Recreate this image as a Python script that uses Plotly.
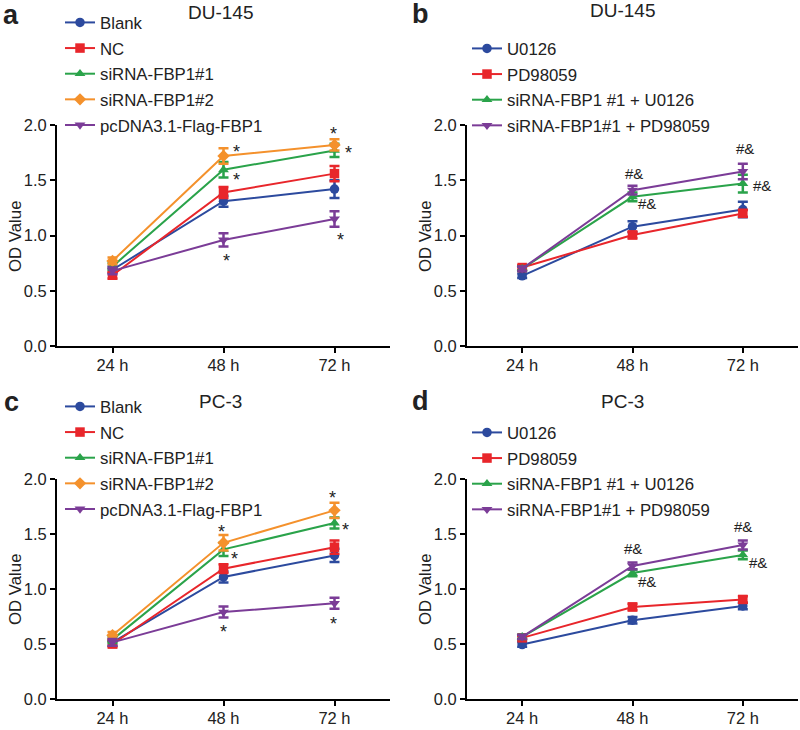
import plotly.graph_objects as go

time_labels = ["24 h", "48 h", "72 h"]
x_idx = [0, 1, 2]

# Panel a: DU-145, FBP1 knockdown/overexpression
a_names = ["Blank", "NC", "siRNA-FBP1#1", "siRNA-FBP1#2", "pcDNA3.1-Flag-FBP1"]
a_blank = [0.69, 1.31, 1.42]
a_nc = [0.64, 1.39, 1.56]
a_si1 = [0.72, 1.595, 1.77]
a_si2 = [0.77, 1.72, 1.82]
a_pc = [0.68, 0.96, 1.15]
a_err_blank = [0.03, 0.05, 0.08]
a_err_nc = [0.03, 0.05, 0.07]
a_err_si1 = [0.03, 0.07, 0.06]
a_err_si2 = [0.03, 0.07, 0.05]
a_err_pc = [0.03, 0.06, 0.07]

# Panel b: DU-145, inhibitors
b_names = ["U0126", "PD98059", "siRNA-FBP1 #1 + U0126", "siRNA-FBP1#1 + PD98059"]
b_u = [0.635, 1.08, 1.235]
b_pd = [0.71, 1.005, 1.20]
b_siu = [0.70, 1.35, 1.47]
b_sipd = [0.70, 1.41, 1.58]
b_err_u = [0.02, 0.05, 0.07]
b_err_pd = [0.02, 0.03, 0.03]
b_err_siu = [0.02, 0.04, 0.08]
b_err_sipd = [0.02, 0.04, 0.07]

# Panel c: PC-3
c_blank = [0.515, 1.11, 1.305]
c_nc = [0.50, 1.185, 1.38]
c_si1 = [0.54, 1.36, 1.60]
c_si2 = [0.58, 1.42, 1.715]
c_pc = [0.515, 0.79, 0.87]
c_err_blank = [0.03, 0.05, 0.06]
c_err_nc = [0.03, 0.04, 0.06]
c_err_si1 = [0.03, 0.06, 0.05]
c_err_si2 = [0.03, 0.07, 0.07]
c_err_pc = [0.03, 0.05, 0.05]

# Panel d: PC-3, inhibitors
d_u = [0.495, 0.716, 0.846]
d_pd = [0.556, 0.837, 0.905]
d_siu = [0.565, 1.145, 1.31]
d_sipd = [0.565, 1.21, 1.40]
d_err_u = [0.02, 0.03, 0.03]
d_err_pd = [0.02, 0.03, 0.03]
d_err_siu = [0.02, 0.03, 0.04]
d_err_sipd = [0.02, 0.03, 0.04]

# significance marks (x index, y value)
a_star_x = [1.12, 1.12, 1.03, 1.99, 2.13, 2.05]
a_star_y = [1.76, 1.50, 0.77, 1.92, 1.75, 0.96]
b_mark_x = [1.01, 1.13, 2.02, 2.17]
b_mark_y = [1.565, 1.29, 1.79, 1.45]
c_star_x = [0.98, 1.10, 1.00, 1.98, 2.10, 1.99]
c_star_y = [1.515, 1.27, 0.605, 1.83, 1.54, 0.68]
d_mark_x = [1.00, 1.13, 2.00, 2.135]
d_mark_y = [1.37, 1.07, 1.57, 1.24]

BLUE = "#2C4A9E"
RED = "#E8262B"
GREEN = "#2AA34A"
ORANGE = "#F4912C"
PURPLE = "#7B3C97"
TXT = "#222222"

FONT = "Liberation Sans, Arial, sans-serif"

fig = go.Figure()

def add_series(y, err, name, color, symbol, xa, ya, legend, msize=9.5):
    fig.add_trace(go.Scatter(
        x=x_idx, y=y, name=name, mode="lines+markers",
        line=dict(color=color, width=2),
        marker=dict(color=color, symbol=symbol, size=msize),
        error_y=dict(type="data", array=err, visible=True, color=color, thickness=2.5, width=5),
        xaxis=xa, yaxis=ya, legend=legend, legendgroup=legend + name,
    ))

a_series = [(a_blank, a_err_blank, BLUE, "circle"), (a_nc, a_err_nc, RED, "square"),
            (a_si1, a_err_si1, GREEN, "triangle-up"), (a_si2, a_err_si2, ORANGE, "diamond"),
            (a_pc, a_err_pc, PURPLE, "triangle-down")]
c_series = [(c_blank, c_err_blank, BLUE, "circle"), (c_nc, c_err_nc, RED, "square"),
            (c_si1, c_err_si1, GREEN, "triangle-up"), (c_si2, c_err_si2, ORANGE, "diamond"),
            (c_pc, c_err_pc, PURPLE, "triangle-down")]
b_series = [(b_u, b_err_u, BLUE, "circle"), (b_pd, b_err_pd, RED, "square"),
            (b_siu, b_err_siu, GREEN, "triangle-up"), (b_sipd, b_err_sipd, PURPLE, "triangle-down")]
d_series = [(d_u, d_err_u, BLUE, "circle"), (d_pd, d_err_pd, RED, "square"),
            (d_siu, d_err_siu, GREEN, "triangle-up"), (d_sipd, d_err_sipd, PURPLE, "triangle-down")]

for (y, e, col, sym), nm in zip(a_series, a_names):
    add_series(y, e, nm, col, sym, "x", "y", "legend")
for (y, e, col, sym), nm in zip(b_series, b_names):
    add_series(y, e, nm, col, sym, "x2", "y2", "legend2")
for (y, e, col, sym), nm in zip(c_series, a_names):
    add_series(y, e, nm, col, sym, "x3", "y3", "legend3")
for (y, e, col, sym), nm in zip(d_series, b_names):
    add_series(y, e, nm, col, sym, "x4", "y4", "legend4")

W, H = 800, 730
def px(v):
    return v / W
def py(v):
    return 1 - v / H

xaxis_common = dict(range=[-0.5, 2.5], tickvals=x_idx, ticktext=time_labels, showline=True,
                    linecolor="black", linewidth=2, ticks="outside", ticklen=5, tickwidth=2,
                    tickcolor="black", showgrid=False, zeroline=False, automargin=False,
                    ticklabelstandoff=-2,
                    tickfont=dict(size=16.5, color=TXT, family=FONT))
yaxis_common = dict(range=[0, 2.0], tickvals=[0, 0.5, 1.0, 1.5, 2.0], tickformat=".1f",
                    showline=True, linecolor="black", linewidth=2, ticks="outside", ticklen=5,
                    tickwidth=2, tickcolor="black", showgrid=False, zeroline=False, automargin=False,
                    tickfont=dict(size=16.5, color=TXT, family=FONT))

dom_left = [px(57), px(390)]
dom_right = [px(467), px(798)]
dom_top = [py(346), py(125)]
dom_bot = [py(699), py(479)]

legend_common = dict(bgcolor="rgba(0,0,0,0)", font=dict(size=16.8, color=TXT, family=FONT),
                     itemwidth=30, tracegroupgap=0.8, xanchor="left", yanchor="top",
                     itemclick=False, itemdoubleclick=False)

annotations = []
def mark(x, y, text, xr, yr, size):
    annotations.append(dict(x=x, y=y, xref=xr, yref=yr, text=text, showarrow=False,
                            font=dict(size=size, color=TXT, family=FONT)))

for xv, yv in zip(a_star_x, a_star_y):
    mark(xv, yv, "*", "x", "y", 18)
for xv, yv in zip(b_mark_x, b_mark_y):
    mark(xv, yv, "#&amp;", "x2", "y2", 15)
for xv, yv in zip(c_star_x, c_star_y):
    mark(xv, yv, "*", "x3", "y3", 18)
for xv, yv in zip(d_mark_x, d_mark_y):
    mark(xv, yv, "#&amp;", "x4", "y4", 15)

def paper_text(x, y, text, size, bold=False, angle=0):
    annotations.append(dict(x=px(x), y=py(y), xref="paper", yref="paper",
                            text=("<b>%s</b>" % text) if bold else text, textangle=angle,
                            showarrow=False, xanchor="center", yanchor="middle",
                            font=dict(size=size, color=TXT, family=FONT)))

paper_text(220, 12, "DU-145", 19)
paper_text(622, 11, "DU-145", 19)
paper_text(220, 402, "PC-3", 19)
paper_text(622, 402, "PC-3", 19)
paper_text(11, 15, "a", 27, True)
paper_text(420, 14, "b", 27, True)
paper_text(11, 402, "c", 27, True)
paper_text(420, 401, "d", 27, True)
paper_text(15, 236, "OD Value", 16.8, angle=-90)
paper_text(425, 236, "OD Value", 16.8, angle=-90)
paper_text(15, 589, "OD Value", 16.8, angle=-90)
paper_text(425, 589, "OD Value", 16.8, angle=-90)

fig.update_layout(
    width=W, height=H, margin=dict(l=0, r=0, t=0, b=0),
    paper_bgcolor="white", plot_bgcolor="white",
    font=dict(family=FONT, color=TXT),
    xaxis=dict(domain=dom_left, anchor="y", **xaxis_common),
    yaxis=dict(domain=dom_top, anchor="x", **yaxis_common),
    xaxis2=dict(domain=dom_right, anchor="y2", **xaxis_common),
    yaxis2=dict(domain=dom_top, anchor="x2", **yaxis_common),
    xaxis3=dict(domain=dom_left, anchor="y3", **xaxis_common),
    yaxis3=dict(domain=dom_bot, anchor="x3", **yaxis_common),
    xaxis4=dict(domain=dom_right, anchor="y4", **xaxis_common),
    yaxis4=dict(domain=dom_bot, anchor="x4", **yaxis_common),
    legend=dict(x=px(60), y=py(5), **legend_common),
    legend2=dict(x=px(467), y=py(31), **legend_common),
    legend3=dict(x=px(60), y=py(389), **legend_common),
    legend4=dict(x=px(467), y=py(415), **legend_common),
    annotations=annotations,
    showlegend=True,
)

fig.write_html("out.html", config={"displayModeBar": False},
               post_script="document.body.style.margin='0px';document.body.style.overflow='hidden';")
